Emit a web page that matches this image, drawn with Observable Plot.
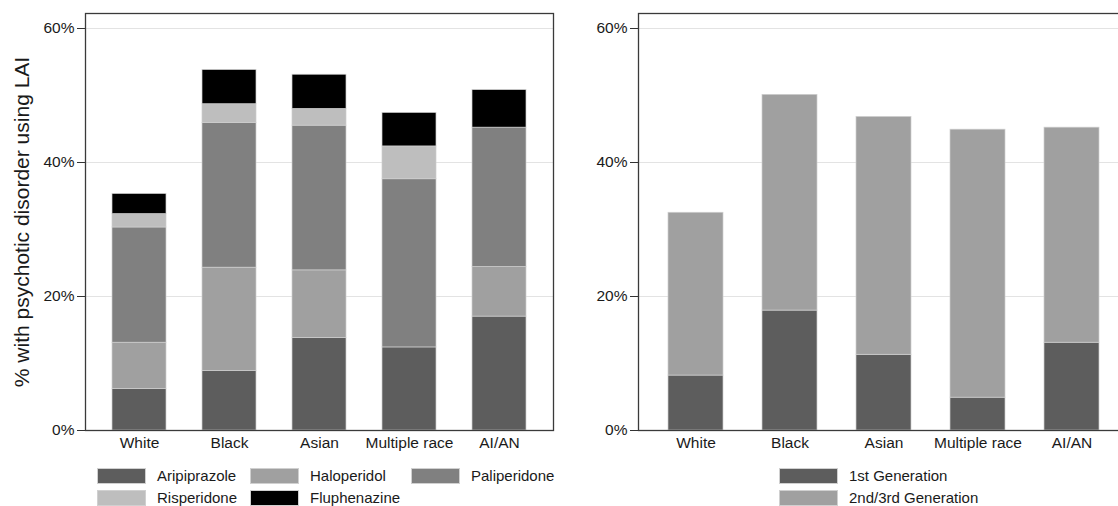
<!DOCTYPE html>
<html>
<head>
<meta charset="utf-8">
<script src="https://cdn.jsdelivr.net/npm/d3@7"></script>
<script src="https://cdn.jsdelivr.net/npm/@observablehq/plot@0.6"></script>
<style>
  html, body { margin: 0; padding: 0; background: #fff; overflow: hidden; }
  #wrap { position: relative; width: 1118px; height: 506px; overflow: hidden;
          font-family: "Liberation Sans", Arial, Helvetica, sans-serif; color: #1a1a1a; }
  .panel { position: absolute; top: 0; }
  .panel svg { max-width: none !important; }
  .legend { position: absolute; top: 0; left: 0; }
  .item { position: absolute; display: flex; align-items: center; font-size: 15px; white-space: nowrap; }
  .sw { height: 16px; margin-right: 11px; box-sizing: border-box; border: 1px solid #d0d0d0; }
</style>
</head>
<body>
<div id="wrap">
  <div id="left" class="panel" style="left:0px;width:559px"></div>
  <div id="right" class="panel" style="left:559px;width:571px"></div>
  <div id="legend" class="legend"></div>
</div>
<script>
// ---------- data ----------
const races = ["White", "Black", "Asian", "Multiple race", "AI/AN"];

// Left panel: % using each LAI (stacked, bottom to top)
const drugs = ["Aripiprazole", "Haloperidol", "Paliperidone", "Risperidone", "Fluphenazine"];
const drugColors = ["#5d5d5d", "#a0a0a0", "#808080", "#bebebe", "#000000"];
const aripiprazole = [6.2, 8.9, 13.8, 12.4, 17.0];
const haloperidol  = [6.9, 15.4, 10.1, 0.0, 7.4];
const paliperidone = [17.2, 21.6, 21.6, 25.1, 20.8];
const risperidone  = [2.0, 2.8, 2.5, 4.9, 0.0];
const fluphenazine = [3.0, 5.1, 5.1, 5.0, 5.6];

// Right panel: by generation
const generations = ["1st Generation", "2nd/3rd Generation"];
const genColors = ["#5d5d5d", "#a0a0a0"];
const firstGen = [8.2, 17.9, 11.3, 4.9, 13.1];
const secondThirdGen = [24.3, 32.2, 35.5, 40.0, 32.1];

const yTicks = [0, 20, 40, 60];
const yLabel = "% with psychotic disorder using LAI";

// ---------- tables ----------
const drugSeries = [aripiprazole, haloperidol, paliperidone, risperidone, fluphenazine];
const drugData = [];
drugs.forEach((d, i) => races.forEach((r, j) => drugData.push({race: r, drug: d, value: drugSeries[i][j]})));
const genSeries = [firstGen, secondThirdGen];
const genData = [];
generations.forEach((g, i) => races.forEach((r, j) => genData.push({race: r, gen: g, value: genSeries[i][j]})));

const font = '"Liberation Sans", Arial, Helvetica, sans-serif';
const yDomain = [0, 62.24];

function panel({data, key, domain, colors, width, marginLeft, marginRight, pi, po, withLabel}) {
  const marks = [
    Plot.gridY(yTicks, {stroke: "#e3e3e3", strokeOpacity: 1, strokeWidth: 1.2}),
    Plot.barY(data, {x: "race", y: "value", fill: key, order: domain,
      filter: d => d.value > 0, stroke: "#cfcfcf", strokeWidth: 0.7}),
    Plot.axisX({tickSize: 0, tickPadding: 6, fontSize: 15.5, label: null, fill: "#1a1a1a"}),
    Plot.axisY({ticks: yTicks, tickSize: 8, tickPadding: 3, tickFormat: d => d + "%",
      fontSize: 15.5, label: null, stroke: "#333", fill: "#1a1a1a"}),
    Plot.frame({stroke: "#3a3a3a", strokeWidth: 1.3})
  ];
  if (withLabel) {
    marks.push(Plot.text([yLabel], {text: d => d, frameAnchor: "left", textAnchor: "middle",
      lineAnchor: "middle", rotate: -90, dx: -63, fontSize: 21, fill: "#1a1a1a"}));
  }
  return Plot.plot({
    width, height: 455,
    marginLeft, marginRight, marginTop: 13, marginBottom: 25,
    style: {fontFamily: font, background: "white", overflow: "visible", maxWidth: "none"},
    x: {domain: races, paddingInner: pi, paddingOuter: po, label: null},
    y: {domain: yDomain, label: null},
    color: {domain, range: colors},
    marks
  });
}

document.getElementById("left").appendChild(panel({
  data: drugData, key: "drug", domain: drugs, colors: drugColors,
  width: 559, marginLeft: 85, marginRight: 6, pi: 0.405, po: 0.281, withLabel: true
}));
document.getElementById("right").appendChild(panel({
  data: genData, key: "gen", domain: generations, colors: genColors,
  width: 571, marginLeft: 79, marginRight: 0, pi: 0.41, po: 0.295, withLabel: false
}));

// ---------- legends ----------
const legend = document.getElementById("legend");
function addItem(label, color, x, y, swW) {
  const it = document.createElement("div");
  it.className = "item";
  it.style.left = x + "px";
  it.style.top = y + "px";
  const sw = document.createElement("div");
  sw.className = "sw";
  sw.style.width = swW + "px";
  sw.style.background = color;
  const t = document.createElement("span");
  t.textContent = label;
  it.appendChild(sw); it.appendChild(t);
  legend.appendChild(it);
}
const leftCols = [97, 250, 411];
const rowTops = [467, 489];
drugs.forEach((d, i) => {
  const col = i % 3, row = Math.floor(i / 3);
  addItem(d, drugColors[i], leftCols[col], rowTops[row], 49);
});
generations.forEach((g, i) => addItem(g, genColors[i], 779, rowTops[i], 59));
</script>
</body>
</html>
